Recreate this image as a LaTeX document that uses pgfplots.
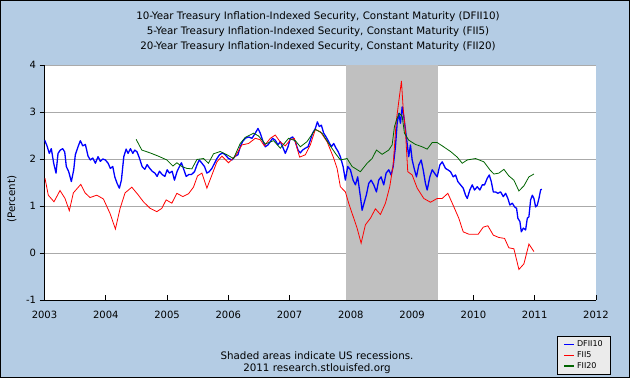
\documentclass[border=0pt]{standalone}
\usepackage{fontspec}
\setmainfont{DejaVu Sans}
\usepackage{pgfplots}
\pgfplotsset{compat=1.18}
\definecolor{bgblue}{RGB}{180,204,228}
\definecolor{recgray}{RGB}{192,192,192}
\definecolor{gridgray}{RGB}{170,170,170}
\definecolor{fgreen}{RGB}{0,100,0}
\definecolor{leggray}{RGB}{235,235,235}
\begin{document}
\begin{tikzpicture}[x=1pt,y=1pt]
\useasboundingbox (0,0) rectangle (630,378);
\fill[bgblue] (0,0) rectangle (630,378);
\draw[black,line width=1.2pt] (0.6,0.6) rectangle (629.4,377.4);
\begin{scope}[font=\fontsize{10.3}{12}\selectfont]
\node at (318,361) {10-Year Treasury Inflation-Indexed Security, Constant Maturity (DFII10)};
\node at (318,346.5) {5-Year Treasury Inflation-Indexed Security, Constant Maturity (FII5)};
\node at (318,331) {20-Year Treasury Inflation-Indexed Security, Constant Maturity (FII20)};
\node[rotate=90] at (12,179) {(Percent)};
\node at (317,22.5) {Shaded areas indicate US recessions.};
\node at (317,9) {2011 research.stlouisfed.org};
\end{scope}
\begin{axis}[
  at={(44.5pt,78pt)}, anchor=south west,
  width=551.5pt, height=235pt, scale only axis,
  xmin=2003, xmax=2012, ymin=-1, ymax=4,
  axis x line*=bottom, axis y line*=left,
  axis line style={black, line width=0.9pt},
  axis background/.style={fill=white},
  xtick={2003,2004,...,2012}, ytick={-1,0,...,4},
  tick align=outside, major tick length=5pt,
  xtick style={black, line width=0.8pt, yshift=5pt},
  ytick style={black, line width=0.8pt},
  ymajorgrids, major grid style={gridgray, line width=0.8pt},
  /pgf/number format/assume math mode=true,
  /pgf/number format/set thousands separator={},
  ticklabel style={font=\fontsize{10}{12}\selectfont},
  xticklabel style={yshift=-3pt},
  legend style={at={(0.929,-0.153)}, anchor=north west, draw=black, fill=leggray,
    font=\fontsize{8}{9}\selectfont, inner xsep=6pt, inner ysep=2.5pt, row sep=-0.5pt,
    line width=0.8pt, /tikz/every even column/.append style={column sep=5pt}},
  legend cell align=left,
  legend image code/.code={\draw[#1, line width=1.8pt] (0pt,0pt) -- (10pt,0pt);},
]
\addplot[fill=recgray, draw=none, forget plot] coordinates {(2007.917,-1) (2007.917,4) (2009.417,4) (2009.417,-1)} -- cycle;
\addplot[blue, line width=1.3pt, line join=round] table {
2003.003 2.40
2003.041 2.28
2003.078 2.12
2003.111 2.22
2003.150 1.91
2003.188 1.70
2003.221 2.12
2003.258 2.19
2003.297 2.22
2003.330 2.15
2003.356 1.84
2003.395 1.73
2003.438 1.52
2003.477 1.77
2003.503 2.09
2003.547 2.26
2003.585 2.39
2003.624 2.28
2003.667 2.31
2003.711 2.06
2003.748 1.98
2003.788 2.02
2003.830 1.91
2003.874 2.05
2003.912 1.95
2003.951 2.00
2003.993 1.98
2004.038 1.91
2004.075 1.80
2004.114 1.84
2004.147 1.62
2004.185 1.48
2004.222 1.38
2004.255 1.55
2004.294 2.05
2004.332 2.21
2004.364 2.12
2004.402 2.22
2004.441 2.12
2004.474 2.19
2004.511 2.15
2004.549 2.02
2004.593 1.84
2004.637 1.78
2004.675 1.88
2004.712 1.81
2004.757 1.74
2004.801 1.70
2004.838 1.63
2004.876 1.74
2004.920 1.67
2004.964 1.63
2005.002 1.77
2005.039 1.70
2005.083 1.74
2005.121 1.55
2005.165 1.74
2005.203 1.84
2005.235 1.92
2005.275 1.77
2005.312 1.63
2005.356 1.67
2005.399 1.67
2005.448 1.73
2005.487 1.87
2005.525 1.98
2005.569 1.91
2005.611 1.84
2005.650 1.70
2005.688 1.73
2005.732 1.80
2005.775 1.91
2005.814 2.01
2005.856 2.09
2005.905 2.13
2005.949 2.09
2006.003 2.01
2006.059 1.98
2006.113 2.06
2006.157 2.09
2006.194 2.26
2006.232 2.37
2006.276 2.44
2006.330 2.47
2006.386 2.44
2006.440 2.55
2006.484 2.65
2006.521 2.55
2006.559 2.40
2006.603 2.26
2006.647 2.30
2006.685 2.37
2006.722 2.44
2006.766 2.40
2006.810 2.30
2006.848 2.37
2006.886 2.26
2006.930 2.12
2006.974 2.26
2007.011 2.44
2007.049 2.47
2007.093 2.37
2007.137 2.19
2007.175 2.13
2007.212 2.19
2007.257 2.23
2007.301 2.26
2007.338 2.40
2007.376 2.55
2007.420 2.65
2007.453 2.79
2007.485 2.69
2007.518 2.72
2007.556 2.55
2007.595 2.47
2007.637 2.37
2007.681 2.26
2007.719 2.33
2007.758 2.23
2007.791 2.16
2007.828 2.05
2007.873 1.84
2007.910 1.55
2007.948 1.84
2007.992 1.77
2008.036 1.55
2008.074 1.45
2008.111 1.62
2008.155 1.20
2008.183 0.91
2008.221 1.09
2008.253 1.24
2008.291 1.48
2008.330 1.55
2008.373 1.45
2008.417 1.30
2008.454 1.55
2008.493 1.62
2008.536 1.45
2008.575 1.70
2008.618 1.77
2008.657 1.66
2008.690 1.84
2008.727 2.26
2008.755 2.76
2008.781 2.97
2008.809 2.76
2008.837 3.11
2008.863 2.90
2008.891 2.62
2008.918 2.33
2008.944 2.05
2008.972 2.30
2009.000 1.98
2009.038 1.77
2009.070 1.62
2009.108 1.87
2009.147 1.98
2009.180 1.77
2009.217 1.48
2009.245 1.34
2009.288 1.62
2009.327 1.77
2009.364 1.70
2009.408 1.62
2009.451 1.87
2009.490 1.94
2009.544 1.80
2009.582 1.77
2009.626 1.73
2009.670 1.62
2009.708 1.66
2009.745 1.52
2009.789 1.45
2009.833 1.38
2009.871 1.23
2009.899 1.16
2009.941 1.34
2009.980 1.45
2010.018 1.34
2010.062 1.41
2010.105 1.34
2010.144 1.45
2010.181 1.45
2010.225 1.59
2010.258 1.66
2010.291 1.52
2010.324 1.30
2010.361 1.30
2010.399 1.27
2010.443 1.30
2010.487 1.20
2010.525 1.27
2010.562 1.16
2010.595 1.02
2010.634 1.06
2010.672 0.98
2010.704 0.95
2010.725 0.74
2010.758 0.67
2010.781 0.45
2010.814 0.53
2010.851 0.49
2010.879 0.74
2010.905 0.77
2010.933 1.13
2010.961 1.23
2010.987 1.16
2011.015 0.98
2011.042 1.02
2011.069 1.16
2011.096 1.34
2011.113 1.36
};
\addlegendentry{DFII10}
\addplot[red, line width=0.8pt] table {
2003.008 1.59
2003.062 1.23
2003.155 1.09
2003.253 1.33
2003.335 1.16
2003.405 0.90
2003.471 1.28
2003.592 1.46
2003.662 1.28
2003.743 1.18
2003.853 1.23
2003.961 1.15
2004.070 0.84
2004.157 0.51
2004.234 0.95
2004.315 1.28
2004.425 1.40
2004.533 1.23
2004.614 1.09
2004.724 0.95
2004.833 0.88
2004.915 0.95
2004.985 1.13
2005.078 1.06
2005.160 1.27
2005.258 1.20
2005.350 1.26
2005.431 1.40
2005.497 1.64
2005.569 1.70
2005.650 1.38
2005.732 1.66
2005.814 1.94
2005.895 2.06
2006.003 1.92
2006.113 2.06
2006.222 2.30
2006.330 2.33
2006.440 2.44
2006.521 2.41
2006.587 2.28
2006.685 2.44
2006.766 2.51
2006.848 2.36
2006.930 2.28
2007.011 2.41
2007.077 2.44
2007.163 2.04
2007.257 2.09
2007.338 2.30
2007.420 2.63
2007.502 2.58
2007.611 2.37
2007.719 2.02
2007.775 1.80
2007.828 1.41
2007.910 1.30
2007.964 1.06
2008.044 0.75
2008.101 0.53
2008.167 0.21
2008.237 0.60
2008.319 0.74
2008.400 0.94
2008.482 0.82
2008.564 1.06
2008.634 1.41
2008.690 1.87
2008.739 2.79
2008.781 3.22
2008.825 3.66
2008.853 3.08
2008.891 2.58
2008.928 1.73
2009.000 1.66
2009.082 1.38
2009.190 1.16
2009.299 1.08
2009.408 1.16
2009.490 1.16
2009.582 1.27
2009.654 1.06
2009.761 0.74
2009.833 0.45
2009.925 0.40
2010.078 0.40
2010.160 0.55
2010.235 0.58
2010.324 0.38
2010.415 0.33
2010.508 0.31
2010.578 0.11
2010.660 0.09
2010.742 -0.35
2010.824 -0.23
2010.905 0.19
2010.987 0.03
};
\addlegendentry{FII5}
\addplot[fgreen, line width=0.8pt] table {
2004.495 2.42
2004.588 2.19
2004.724 2.13
2004.859 2.06
2004.997 1.98
2005.095 1.85
2005.160 1.92
2005.242 1.84
2005.324 1.80
2005.405 1.79
2005.487 1.99
2005.595 2.01
2005.676 1.91
2005.758 2.11
2005.868 2.16
2005.977 2.09
2006.085 2.01
2006.194 2.33
2006.276 2.46
2006.412 2.55
2006.493 2.49
2006.603 2.32
2006.739 2.39
2006.848 2.23
2006.984 2.44
2007.093 2.39
2007.175 2.26
2007.284 2.37
2007.420 2.63
2007.529 2.55
2007.637 2.33
2007.747 2.12
2007.828 1.98
2007.938 2.01
2008.020 1.84
2008.155 1.73
2008.265 1.91
2008.346 2.01
2008.417 2.19
2008.510 2.10
2008.618 2.19
2008.673 2.30
2008.711 2.69
2008.755 2.87
2008.792 2.97
2008.837 2.91
2008.874 2.55
2008.944 2.40
2009.054 2.31
2009.163 2.26
2009.245 2.21
2009.327 2.35
2009.408 2.35
2009.490 2.28
2009.626 2.16
2009.735 2.04
2009.817 1.91
2009.899 1.98
2010.034 2.01
2010.170 1.94
2010.268 1.77
2010.333 1.68
2010.415 1.70
2010.497 1.78
2010.578 1.64
2010.660 1.55
2010.742 1.32
2010.824 1.43
2010.905 1.62
2010.987 1.68
};
\addlegendentry{FII20}
\end{axis}
\end{tikzpicture}
\end{document}
